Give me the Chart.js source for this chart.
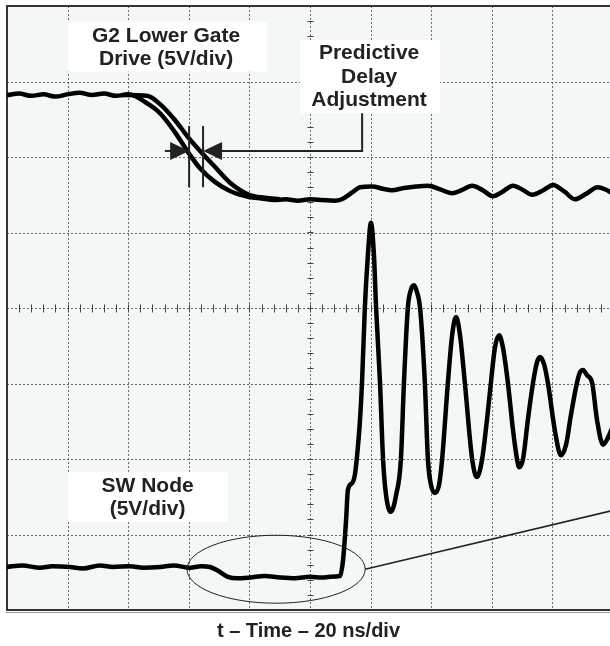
<!DOCTYPE html>
<html>
<head>
<meta charset="utf-8">
<title>G2 Lower Gate Drive and SW Node</title>
<script src="https://cdn.jsdelivr.net/npm/chart.js@4.4.1/dist/chart.umd.min.js"></script>
<style>
  html, body { margin: 0; padding: 0; background: #fff; overflow: hidden; }
  #scope { display: block; }
</style>
</head>
<body>
<canvas id="scope" width="610" height="646"></canvas>
<script>
// time in ns (20 ns/div), amplitude in screen divisions (5 V/div)
const timeDivs = [0, 20, 40, 60, 80, 100, 120, 140, 160, 180, 200];
const ampDivs = [0, 1, 2, 3, 4, 5, 6, 7, 8];

// G2 lower gate drive, earlier edge (whole sweep)
const gateEarlyTime = [0, 4, 8, 12, 16, 20, 24, 28, 32, 36, 40, 42.2, 45.5, 50.5, 55.4, 60, 63.7, 68.6, 73.6, 79.9,
  84, 88, 92, 96, 100, 104, 108, 110.5, 113.9, 116.5, 120.5, 124, 127, 131, 135, 139, 143, 146.9, 150, 153.5,
  157, 160.4, 163.5, 167, 170, 173.3, 177, 180.2, 184, 187.4, 191, 195, 197.5, 199.7];
const gateEarlyDiv = [6.82, 6.84, 6.81, 6.83, 6.80, 6.83, 6.85, 6.82, 6.84, 6.81, 6.83, 6.81, 6.73, 6.58, 6.33, 6.05, 5.85, 5.67, 5.55, 5.47,
  5.45, 5.43, 5.44, 5.42, 5.44, 5.43, 5.42, 5.44, 5.53, 5.60, 5.61, 5.58, 5.56, 5.59, 5.61, 5.62, 5.57, 5.52, 5.56, 5.62,
  5.56, 5.48, 5.54, 5.62, 5.57, 5.50, 5.56, 5.63, 5.54, 5.44, 5.51, 5.60, 5.57, 5.52];

// G2 lower gate drive, later edge (only where it separates)
const gateLateTime = [38, 46.2, 50.5, 55.4, 60, 64.4, 68.6, 73.6, 79.9, 85.1, 90];
const gateLateDiv = [6.82, 6.81, 6.70, 6.49, 6.25, 6.05, 5.87, 5.66, 5.50, 5.46, 5.44];

// SW node
const swTime = [0, 5, 10.9, 15, 20.8, 25, 30.7, 35, 40.6, 45, 50.5, 55, 60.4, 64, 67, 69.6, 72.9, 76, 80.2, 85,
  90.1, 95, 100, 104, 106.6, 109.9, 110.9, 111.9, 112.5, 113.9, 114.8, 115.5, 116.5, 117.2, 118.1, 119.1, 120.1, 121.1, 121.8, 123.1,
  124.1, 125.1, 126.7, 128.4, 130, 131, 132.3, 133.3, 134.3, 135.3, 136.3, 137.9, 138.9, 139.9, 141.2, 142.6, 143.6, 145.5, 146.9, 148.2,
  149.5, 151.1, 153.5, 155.1, 156.8, 158.4, 159.7, 161, 162.4, 163.7, 165.3, 167, 168.3, 169, 170.3, 171.9, 173.6, 174.9, 175.9, 177.2,
  178.5, 180.8, 182.8, 184.5, 186.1, 188.1, 189.1, 190.1, 191.4, 193.1, 194.7, 196.7, 198.3, 199.7];
const swDiv = [0.57, 0.59, 0.56, 0.58, 0.57, 0.55, 0.59, 0.57, 0.58, 0.56, 0.57, 0.59, 0.56, 0.58, 0.57, 0.52, 0.44, 0.42, 0.43, 0.45,
  0.43, 0.42, 0.44, 0.43, 0.44, 0.45, 0.66, 1.19, 1.59, 1.68, 1.79, 2.03, 2.52, 3.05, 4.01, 4.70, 5.13, 4.70, 4.01, 3.01,
  2.00, 1.52, 1.30, 1.52, 2.00, 3.01, 4.01, 4.24, 4.30, 4.21, 4.01, 3.01, 2.00, 1.66, 1.55, 1.66, 2.00, 3.01, 3.64, 3.88,
  3.64, 3.01, 2.00, 1.76, 2.00, 2.52, 3.01, 3.47, 3.64, 3.47, 3.01, 2.38, 2.00, 1.89, 2.00, 2.52, 3.01, 3.28, 3.35, 3.26,
  3.01, 2.38, 2.05, 2.19, 2.58, 3.01, 3.15, 3.18, 3.11, 3.01, 2.52, 2.19, 2.28, 2.41];

// annotation anchors, in ns / div
const labels = [
  { lines: ['G2 Lower Gate', 'Drive (5V/div)'], x: 52.5, base: [7.52, 7.22], box: [20.1, 85.8, 7.79, 7.13] },
  { lines: ['Predictive', 'Delay', 'Adjustment'], x: 119.5, base: [7.30, 6.98, 6.68], box: [96.7, 142.9, 7.55, 6.58] },
  { lines: ['SW Node', '(5V/div)'], x: 46.4, base: [1.56, 1.26], box: [20.1, 72.9, 1.83, 1.17] }
];
const delayMarks = { early: 60.1, late: 64.7, arrowY: 6.08, top: 6.41, bottom: 5.60, tail: 52.1, elbowX: 117.2, elbowTop: 6.58 };
const zoomEllipse = { x: 88.8, y: 0.54, rx: 29.4, ry: 0.45, lineTo: [200, 1.32] };

const toPoints = (xs, ys) => xs.map((x, i) => ({ x, y: ys[i] }));

Chart.defaults.font.family = '"Liberation Sans", Arial, sans-serif';

const scopeDecor = {
  id: 'scopeDecor',
  beforeDatasetsDraw(chart) {
    const { ctx, chartArea: a, scales: { x, y } } = chart;
    ctx.save();
    ctx.fillStyle = '#f4f8f4';
    ctx.fillRect(a.left, a.top, a.right - a.left, a.bottom - a.top);

    // dotted graticule
    ctx.strokeStyle = '#6a6a6a';
    ctx.lineWidth = 1;
    ctx.setLineDash([2, 2]);
    timeDivs.forEach(t => {
      const px = Math.round(x.getPixelForValue(t)) + 0.5;
      ctx.beginPath(); ctx.moveTo(px, a.top); ctx.lineTo(px, a.bottom); ctx.stroke();
    });
    ampDivs.forEach(v => {
      const py = Math.round(y.getPixelForValue(v)) + 0.5;
      ctx.beginPath(); ctx.moveTo(a.left, py); ctx.lineTo(a.right, py); ctx.stroke();
    });
    ctx.setLineDash([]);

    // minor ticks on the centre lines
    ctx.strokeStyle = '#444';
    const cx = Math.round(x.getPixelForValue(100)) + 0.5;
    const cy = Math.round(y.getPixelForValue(4)) + 0.5;
    for (let t = 0; t <= 200; t += 4) {
      const px = Math.round(x.getPixelForValue(t)) + 0.5;
      ctx.beginPath(); ctx.moveTo(px, cy - 4); ctx.lineTo(px, cy + 4); ctx.stroke();
    }
    for (let v = 0; v <= 8; v += 0.2) {
      const py = Math.round(y.getPixelForValue(v)) + 0.5;
      ctx.beginPath(); ctx.moveTo(cx - 3, py); ctx.lineTo(cx + 3, py); ctx.stroke();
    }

    // frame
    ctx.strokeStyle = '#333';
    ctx.lineWidth = 2;
    ctx.beginPath();
    ctx.moveTo(a.right, a.top); ctx.lineTo(a.left, a.top);
    ctx.lineTo(a.left, a.bottom); ctx.lineTo(a.right, a.bottom);
    ctx.stroke();
    ctx.strokeStyle = '#999';
    ctx.lineWidth = 1;
    ctx.beginPath(); ctx.moveTo(a.left - 1, a.bottom + 2.5); ctx.lineTo(a.right, a.bottom + 2.5); ctx.stroke();
    ctx.restore();
  },
  afterDatasetsDraw(chart) {
    const { ctx, scales: { x, y } } = chart;
    ctx.save();

    // text boxes
    labels.forEach(l => {
      const [x0, x1, y0, y1] = l.box;
      ctx.fillStyle = '#fff';
      ctx.fillRect(x.getPixelForValue(x0), y.getPixelForValue(y0),
        x.getPixelForValue(x1) - x.getPixelForValue(x0), y.getPixelForValue(y1) - y.getPixelForValue(y0));
      ctx.fillStyle = '#222';
      ctx.font = 'bold 21px "Liberation Sans", Arial, sans-serif';
      ctx.textAlign = 'center';
      ctx.textBaseline = 'alphabetic';
      l.lines.forEach((s, i) => ctx.fillText(s, x.getPixelForValue(l.x), y.getPixelForValue(l.base[i])));
    });

    // predictive delay markers
    const d = delayMarks;
    ctx.strokeStyle = '#222';
    ctx.fillStyle = '#222';
    ctx.lineWidth = 2;
    [d.early, d.late].forEach(t => {
      const px = x.getPixelForValue(t);
      ctx.beginPath(); ctx.moveTo(px, y.getPixelForValue(d.top)); ctx.lineTo(px, y.getPixelForValue(d.bottom)); ctx.stroke();
    });
    const ay = y.getPixelForValue(d.arrowY);
    const arrowHead = (tip, dir) => {
      ctx.beginPath();
      ctx.moveTo(tip, ay);
      ctx.lineTo(tip - dir * 19, ay - 9);
      ctx.lineTo(tip - dir * 19, ay + 9);
      ctx.closePath();
      ctx.fill();
    };
    const eTip = x.getPixelForValue(d.early);
    const lTip = x.getPixelForValue(d.late);
    ctx.beginPath(); ctx.moveTo(x.getPixelForValue(d.tail), ay); ctx.lineTo(eTip - 10, ay); ctx.stroke();
    arrowHead(eTip, 1);
    const ex = x.getPixelForValue(d.elbowX);
    ctx.beginPath();
    ctx.moveTo(ex, y.getPixelForValue(d.elbowTop));
    ctx.lineTo(ex, ay);
    ctx.lineTo(lTip + 10, ay);
    ctx.stroke();
    arrowHead(lTip, -1);

    // ellipse round the SW turn-on and its pointer
    const z = zoomEllipse;
    const ecx = x.getPixelForValue(z.x), ecy = y.getPixelForValue(z.y);
    const rx = x.getPixelForValue(z.x + z.rx) - ecx;
    const ry = ecy - y.getPixelForValue(z.y + z.ry);
    ctx.lineWidth = 1;
    ctx.beginPath(); ctx.ellipse(ecx, ecy, rx, ry, 0, 0, Math.PI * 2); ctx.stroke();
    ctx.lineWidth = 1.6;
    ctx.beginPath();
    ctx.moveTo(ecx + rx, ecy);
    ctx.lineTo(x.getPixelForValue(z.lineTo[0]), y.getPixelForValue(z.lineTo[1]));
    ctx.stroke();
    ctx.restore();
  }
};

const traceStyle = { borderColor: '#000', pointRadius: 0, fill: false, cubicInterpolationMode: 'monotone' };

new Chart(document.getElementById('scope'), {
  type: 'line',
  data: {
    datasets: [
      { ...traceStyle, label: 'G2 gate (early)', data: toPoints(gateEarlyTime, gateEarlyDiv), borderWidth: 4.5 },
      { ...traceStyle, label: 'G2 gate (late)', data: toPoints(gateLateTime, gateLateDiv), borderWidth: 4.5 },
      { ...traceStyle, label: 'SW node', data: toPoints(swTime, swDiv), borderWidth: 4.5 }
    ]
  },
  options: {
    responsive: false,
    animation: false,
    layout: { padding: { left: 7, top: 6, right: 0, bottom: 0 } },
    scales: {
      x: { type: 'linear', min: 0, max: 199, display: false },
      y: { type: 'linear', min: 0, max: 8, display: false }
    },
    plugins: {
      legend: { display: false },
      tooltip: { enabled: false },
      title: {
        display: true,
        position: 'bottom',
        text: 't \u2013 Time \u2013 20 ns/div',
        color: '#222',
        font: { size: 20, weight: 'bold' },
        padding: { top: 9, bottom: 3 }
      }
    }
  },
  plugins: [scopeDecor]
});
</script>
</body>
</html>
